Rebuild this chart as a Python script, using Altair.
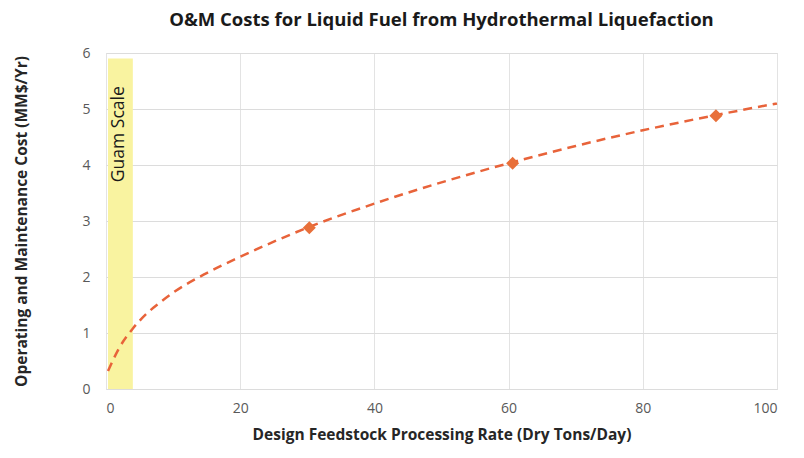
import altair as alt
import pandas as pd

# Trend curve
curve_x = [0.3, 2, 4, 6, 8, 10, 15, 20, 25, 30, 40, 50, 60, 70, 80, 90, 100]
curve_y = [0.32, 0.74, 1.08, 1.34, 1.54, 1.72, 2.07, 2.36, 2.63, 2.88, 3.31, 3.69, 4.03, 4.34, 4.62, 4.87, 5.10]

# Data points (diamonds)
pt_x = [30.3, 60.6, 90.9]
pt_y = [2.88, 4.03, 4.88]

# Guam scale band
band_x0 = [0.3]
band_x1 = [4.0]
band_y0 = [0.0]
band_y1 = [5.9]
band_label = ["Guam Scale"]

curve = pd.DataFrame({"x": curve_x, "y": curve_y})
pts = pd.DataFrame({"x": pt_x, "y": pt_y})
band = pd.DataFrame({"x0": band_x0, "x1": band_x1, "y0": band_y0, "y1": band_y1,
                     "label": band_label, "lx": [1.9], "ly": [4.55]})

xscale = alt.Scale(domain=[0, 100], nice=False, zero=False)
yscale = alt.Scale(domain=[0, 6], nice=False)

xaxis = alt.Axis(values=[0, 20, 40, 60, 80, 100], title="Design Feedstock Processing Rate (Dry Tons/Day)",
                 format="d", grid=True, gridColor="#e3e3e3", domain=False, ticks=False,
                 labelPadding=12, titlePadding=12, labelFontSize=14, labelColor="#595959",
                 titleFontSize=15.5, titleFontWeight="bold", titleColor="#262626",
                 labelFont="Open Sans", titleFont="Open Sans")
yaxis = alt.Axis(values=[0, 1, 2, 3, 4, 5, 6], title="Operating and Maintenance Cost (MM$/Yr)",
                 format="d", grid=True, gridColor="#dcdcdc", domain=False, ticks=False,
                 labelPadding=16, titlePadding=52, labelFontSize=14, labelColor="#595959",
                 titleFontSize=15.5, titleFontWeight="bold", titleColor="#262626",
                 labelFont="Open Sans", titleFont="Open Sans")

rect = alt.Chart(band).mark_rect(color="#f9f3a0", opacity=1).encode(
    x=alt.X("x0:Q", scale=xscale, axis=xaxis), x2="x1:Q",
    y=alt.Y("y0:Q", scale=yscale, axis=yaxis), y2="y1:Q")

label = alt.Chart(band).mark_text(angle=270, align="center", baseline="middle",
                                  fontSize=17.5, font="Open Sans", color="#1a1a1a").encode(
    x=alt.X("lx:Q", scale=xscale), y=alt.Y("ly:Q", scale=yscale), text="label:N")

line = alt.Chart(curve).mark_line(color="#e8633a", strokeWidth=2.5, strokeDash=[9, 6],
                                  interpolate="monotone").encode(
    x=alt.X("x:Q", scale=xscale), y=alt.Y("y:Q", scale=yscale))

points = alt.Chart(pts).mark_point(shape="diamond", filled=True, size=170, color="#e8703a", opacity=1).encode(
    x=alt.X("x:Q", scale=xscale), y=alt.Y("y:Q", scale=yscale))

chart = alt.layer(rect, label, line, points).properties(
    width=671, height=336,
    title=alt.TitleParams("O&M Costs for Liquid Fuel from Hydrothermal Liquefaction",
                          fontSize=18.5, font="Open Sans", fontWeight="bold", color="#1a1a1a",
                          anchor="middle", offset=17),
    autosize=alt.AutoSizeParams(type="none"),
    padding={"left": 98, "top": 45, "right": 19, "bottom": 61},
).configure_view(stroke=None).configure(background="white")

chart.save("out.html", embed_options={"renderer": "svg", "actions": False})
